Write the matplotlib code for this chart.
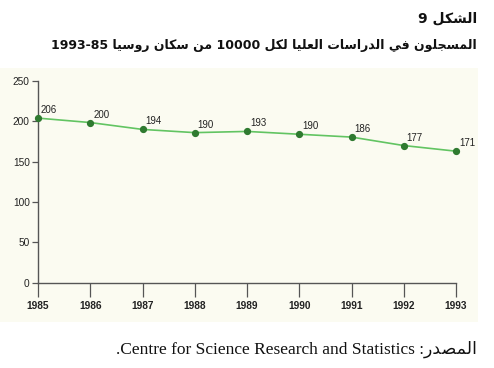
import matplotlib
matplotlib.use("Agg")
import matplotlib.pyplot as plt
from matplotlib.patches import Rectangle

# ---------------- data ----------------
years = [1985, 1986, 1987, 1988, 1989, 1990, 1991, 1992, 1993]
plotted = [204, 198.5, 190, 186, 187.5, 184, 180.5, 170, 163]
labels = ["206", "200", "194", "190", "193", "190", "186", "177", "171"]
yticks = [0, 50, 100, 150, 200, 250]

title1 = "الشكل 9"
title2_words = ["المسجلون", "في", "الدراسات", "العليا", "لكل", "10000", "من", "سكان", "روسيا", "1993-85"]
source_ar = "المصدر:"
source_en = "Centre for Science Research and Statistics."

# ---------------- minimal Arabic shaping ----------------
FORMS = {
    'ا': (0xFE8D, 0xFE8E, None, None),
    'ب': (0xFE8F, 0xFE90, 0xFE91, 0xFE92),
    'ت': (0xFE95, 0xFE96, 0xFE97, 0xFE98),
    'ج': (0xFE9D, 0xFE9E, 0xFE9F, 0xFEA0),
    'د': (0xFEA9, 0xFEAA, None, None),
    'ر': (0xFEAD, 0xFEAE, None, None),
    'س': (0xFEB1, 0xFEB2, 0xFEB3, 0xFEB4),
    'ش': (0xFEB5, 0xFEB6, 0xFEB7, 0xFEB8),
    'ص': (0xFEB9, 0xFEBA, 0xFEBB, 0xFEBC),
    'ع': (0xFEC9, 0xFECA, 0xFECB, 0xFECC),
    'ف': (0xFED1, 0xFED2, 0xFED3, 0xFED4),
    'ك': (0xFED9, 0xFEDA, 0xFEDB, 0xFEDC),
    'ل': (0xFEDD, 0xFEDE, 0xFEDF, 0xFEE0),
    'م': (0xFEE1, 0xFEE2, 0xFEE3, 0xFEE4),
    'ن': (0xFEE5, 0xFEE6, 0xFEE7, 0xFEE8),
    'و': (0xFEED, 0xFEEE, None, None),
    'ي': (0xFEF1, 0xFEF2, 0xFEF3, 0xFEF4),
}


def shape_word(w):
    """Return visually ordered (LTR) shaped string for one Arabic word."""
    out = []
    n = len(w)
    for i, c in enumerate(w):
        if c not in FORMS:
            out.append(c)
            continue
        f = FORMS[c]
        prev = w[i - 1] if i > 0 else None
        nxt = w[i + 1] if i < n - 1 else None
        join_prev = prev in FORMS and FORMS[prev][2] is not None
        join_next = nxt in FORMS and f[2] is not None
        if join_prev and join_next:
            code = f[3]
        elif join_prev:
            code = f[1]
        elif join_next:
            code = f[2]
        else:
            code = f[0]
        out.append(chr(code))
    return "".join(reversed(out))


def is_arabic(w):
    return any(ch in FORMS for ch in w)


def visual_line(words):
    vis = []
    for w in reversed(words):
        vis.append(shape_word(w) if is_arabic(w) else w)
    return " ".join(vis)


# ---------------- figure ----------------
W, H = 494, 368
fig = plt.figure(figsize=(W / 100, H / 100), dpi=100)
fig.patch.set_facecolor("white")

cream = "#fbfbf1"
bg = Rectangle((0, 46 / H), 478 / W, 254 / H, transform=fig.transFigure,
               facecolor=cream, edgecolor="none", zorder=-10)
fig.patches.append(bg)

ax = fig.add_axes([38 / W, 85.3 / H, (456 - 38) / W, (282.7 - 81) / H])
ax.set_zorder(5)
ax.set_facecolor("none")
ax.set_xlim(years[0], years[-1])
ax.set_ylim(0, 250)

ax.plot(years, plotted, color="#62c462", lw=1.2, zorder=3, clip_on=False)
ax.plot(years, plotted, 'o', color="#2f7a30", ms=4.2, zorder=4, clip_on=False)

for x, y, t in zip(years, plotted, labels):
    ax.annotate(t, (x, y), xytext=(3, 3), textcoords="offset pixels", ha="left", va="bottom",
                fontsize=7, family="Liberation Sans", color="#222222")

for s in ["top", "right"]:
    ax.spines[s].set_visible(False)
for s in ["left", "bottom"]:
    ax.spines[s].set_color("#555555")
    ax.spines[s].set_linewidth(1.0)

ax.set_yticks(yticks)
ax.set_yticklabels([str(v) for v in yticks], fontsize=7.3, family="Liberation Sans", color="#222222")
ax.set_xticks(years)
ax.set_xticklabels([str(y) for y in years], fontsize=7.3, family="Liberation Sans",
                   fontweight="bold", color="#222222")
ax.tick_params(axis="y", length=4, width=0.9, color="#555555", pad=2)
ax.tick_params(axis="x", length=10, width=0.9, color="#555555", pad=3)

# titles
fig.text(477 / W, 1 - 18 / H, visual_line(title1.split(" ")), ha="right", va="center",
         fontsize=10, fontweight="bold", family="DejaVu Sans", color="#111111")
fig.text(477 / W, 1 - 45 / H, visual_line(title2_words), ha="right", va="center",
         fontsize=9, fontweight="bold", family="DejaVu Sans", color="#111111")

# source line
src = "." + source_en[:-1] + " :" + shape_word(source_ar[:-1])
fig.text(477 / W, 1 - 349 / H, src, ha="right", va="center",
         fontsize=12.5, family=["Liberation Serif", "DejaVu Sans"], color="#111111")

fig.savefig("out.png", dpi=100, facecolor="white")
